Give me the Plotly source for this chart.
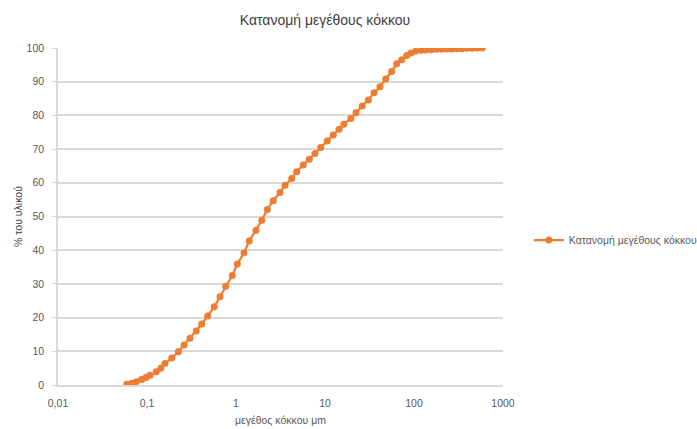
import plotly.graph_objects as go

# Grain size classes (µm) and cumulative passing (%)
grain_size_um = [
    0.0592, 0.0673, 0.0760, 0.0871, 0.0975, 0.108, 0.127, 0.143, 0.159, 0.190,
    0.225, 0.261, 0.304, 0.358, 0.412, 0.481, 0.570, 0.661, 0.766, 0.908,
    1.035, 1.23, 1.41, 1.68, 1.95, 2.25, 2.62, 3.12, 3.56, 4.23,
    4.81, 5.70, 6.67, 7.73, 8.95, 10.6, 12.4, 14.4, 16.3, 19.5,
    22.3, 26.2, 30.7, 35.6, 41.5, 48.1, 56.1, 64.0, 72.8, 82.8,
    92.5, 104, 120, 135, 155, 178, 205, 233, 265, 304,
    346, 394, 452, 514, 585,
]
cumulative_pct = [
    0.2, 0.5, 1.0, 1.6, 2.2, 2.9, 3.9, 5.0, 6.4, 8.0,
    9.9, 11.9, 13.9, 16.0, 18.1, 20.5, 23.2, 26.2, 29.3, 32.5,
    35.9, 39.2, 42.7, 45.9, 48.9, 52.1, 54.7, 57.1, 59.3, 61.3,
    63.3, 65.3, 67.0, 68.7, 70.5, 72.4, 74.2, 75.9, 77.4, 79.1,
    80.8, 82.8, 84.6, 86.7, 88.5, 90.8, 93.0, 95.3, 96.5, 97.8,
    98.5, 99.0, 99.3, 99.4, 99.5, 99.6, 99.6, 99.7, 99.7, 99.8,
    99.8, 99.9, 99.9, 100.0, 100.0,
]

x_tick_vals = [0.01, 0.1, 1, 10, 100, 1000]
x_tick_text = ["0,01", "0,1", "1", "10", "100", "1000"]
y_tick_vals = [0, 10, 20, 30, 40, 50, 60, 70, 80, 90, 100]

series_name = "Κατανομή μεγέθους κόκκου"
orange = "#ED7D31"
grid = "#D9D9D9"
text_col = "#595959"
font_family = "Liberation Sans, Arial, sans-serif"

fig = go.Figure()
fig.add_trace(go.Scatter(
    x=grain_size_um,
    y=cumulative_pct,
    mode="lines+markers",
    name=series_name,
    line=dict(color=orange, width=2.25),
    marker=dict(color=orange, size=7, line=dict(width=0)),
))

fig.update_layout(
    width=697,
    height=429,
    paper_bgcolor="white",
    plot_bgcolor="white",
    margin=dict(l=58, r=194, t=48, b=44, autoexpand=False),
    font=dict(family=font_family, size=10, color=text_col),
    title=dict(
        text="Κατανομή μεγέθους κόκκου",
        x=325 / 697,
        xanchor="center",
        y=1 - 20 / 429,
        yanchor="middle",
        font=dict(family=font_family, size=14, color="#404040"),
    ),
    showlegend=True,
    legend=dict(
        x=1.058,
        xanchor="left",
        y=0.43,
        yanchor="middle",
        font=dict(family=font_family, size=10.5, color=text_col),
        bgcolor="rgba(0,0,0,0)",
        itemwidth=30,
    ),
    xaxis=dict(
        type="log",
        range=[-2, 3],
        tickvals=x_tick_vals,
        ticktext=x_tick_text,
        showgrid=False,
        showline=True,
        linecolor=grid,
        linewidth=1.5,
        ticks="",
        ticklabelstandoff=8,
        zeroline=False,
        title=dict(text="μεγέθος κόκκου μm", font=dict(size=10.5, color=text_col), standoff=8),
        tickfont=dict(size=10.5, color=text_col),
    ),
    yaxis=dict(
        range=[0, 100],
        tickvals=y_tick_vals,
        showgrid=True,
        gridcolor=grid,
        gridwidth=1.5,
        showline=True,
        linecolor=grid,
        linewidth=1.5,
        ticks="outside",
        ticklen=4,
        tickcolor=grid,
        ticklabelstandoff=6,
        zeroline=False,
        title=dict(text="% του υλικού", font=dict(size=10.5, color="#404040"), standoff=2),
        tickfont=dict(size=10.5, color=text_col),
    ),
)

fig.write_html("out.html")
